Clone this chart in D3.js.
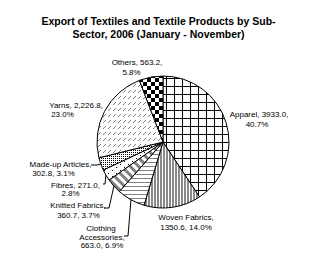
<!DOCTYPE html>
<html>
<head>
<meta charset="utf-8">
<script src="https://cdn.jsdelivr.net/npm/d3@7"></script>
<style>
  body { margin: 0; background: #fff; }
  text { font-family: "Liberation Sans", Arial, sans-serif; fill: #000; }
</style>
</head>
<body>
<script>
// sub-sectors, clockwise from 12 o'clock
var categories = ["Apparel", "Woven Fabrics", "Clothing Accessories", "Knitted Fabrics",
                  "Fibres", "Made-up Articles", "Yarns", "Others"];
var values = [3933.0, 1350.6, 663.0, 360.7, 271.0, 302.8, 2226.8, 563.2];
var valueLabels = ["3933.0", "1350.6", "663.0", "360.7", "271.0", "302.8", "2,226.8", "563.2"];
var percentLabels = ["40.7%", "14.0%", "6.9%", "3.7%", "2.8%", "3.1%", "23.0%", "5.8%"];
var titleLines = ["Export of Textiles and Textile Products by Sub-",
                  "Sector, 2006 (January - November)"];

var width = 317, height = 260;
var cx = 163, cy = 142, radius = 66;

// label layout: lines (center x, baseline y) and leader elbows
var labelLayout = [
  {lines: [["Apparel, " + valueLabels[0] + ",", 259, 117], [percentLabels[0], 257, 127]]},
  {lines: [["Woven Fabrics,", 186, 220], [valueLabels[1] + ", " + percentLabels[1], 186, 230]]},
  {lines: [["Clothing", 101, 231], ["Accessories,", 102, 239.5], [valueLabels[2] + ", " + percentLabels[2], 102, 248]],
   leader: [[124, 236], [128, 236]]},
  {lines: [["Knitted Fabrics,", 78, 208], [valueLabels[3] + ", " + percentLabels[3], 78.5, 218]],
   leader: [[104, 208], [109, 208]]},
  {lines: [["Fibres, " + valueLabels[4] + ",", 75.5, 188], [percentLabels[4], 70.5, 196]],
   leader: [[103, 184], [105, 184]]},
  {lines: [["Made-up Articles,", 60.5, 167], [valueLabels[5] + ", " + percentLabels[5], 53.5, 176]],
   leader: [[91, 165], [97, 165]]},
  {lines: [["Yarns, " + valueLabels[6] + ",", 76, 108], [percentLabels[6], 62.5, 117]]},
  {lines: [["Others, " + valueLabels[7] + ",", 137, 65], [percentLabels[7], 131.5, 75]]}
];

var svg = d3.select("body").append("svg")
            .attr("width", width)
            .attr("height", height);

var defs = svg.append("defs");

// fill patterns, one per slice
function makePattern(id, w, h, draw, transform){
  var p = defs.append("pattern")
              .attr("id", id)
              .attr("patternUnits", "userSpaceOnUse")
              .attr("width", w)
              .attr("height", h);
  if (transform) p.attr("patternTransform", transform);
  p.append("rect").attr("width", w).attr("height", h).attr("fill", "#fff");
  draw(p);
}

makePattern("p-apparel", 8, 8, function(p){
  p.append("rect").attr("x", 0).attr("y", 0).attr("width", 8).attr("height", 1).attr("fill", "#000");
  p.append("rect").attr("x", 0).attr("y", 0).attr("width", 1).attr("height", 8).attr("fill", "#000");
}, "translate(" + cx + ",0)");
makePattern("p-woven", 3, 3, function(p){
  p.append("rect").attr("width", 2).attr("height", 3).attr("fill", "#8a8a8a");
});
makePattern("p-cloth", 4, 4, function(p){
  p.append("rect").attr("width", 4).attr("height", 1).attr("fill", "#808080");
});
makePattern("p-knit", 6, 6, function(p){
  p.append("rect").attr("width", 3).attr("height", 6).attr("fill", "#808080");
}, "rotate(-45)");
makePattern("p-fibre", 8, 6, function(p){
  p.append("rect").attr("x", 1).attr("y", 1).attr("width", 1).attr("height", 1).attr("fill", "#000");
  p.append("rect").attr("x", 5).attr("y", 4).attr("width", 1).attr("height", 1).attr("fill", "#000");
});
makePattern("p-madeup", 2, 2, function(p){
  p.append("rect").attr("width", 1).attr("height", 1).attr("fill", "#000");
});
makePattern("p-yarn", 5, 6, function(p){
  p.append("path").attr("d", "M0,5L3,2").attr("stroke", "#808080").attr("stroke-width", 1);
});
makePattern("p-others", 8, 8, function(p){
  p.append("rect").attr("width", 4).attr("height", 4).attr("fill", "#000");
  p.append("rect").attr("x", 4).attr("y", 4).attr("width", 4).attr("height", 4).attr("fill", "#000");
});

var patternIds = ["p-apparel", "p-woven", "p-cloth", "p-knit", "p-fibre", "p-madeup", "p-yarn", "p-others"];

// title
svg.append("g").selectAll("text")
   .data(titleLines)
   .enter().append("text")
   .attr("x", 158.5)
   .attr("y", function(d, i){ return 24.5 + i * 13; })
   .attr("text-anchor", "middle")
   .attr("font-size", "10.5px")
   .attr("font-weight", "bold")
   .text(function(d){ return d; });

var pie = d3.pie().sort(null).value(function(d){ return d; });
var arcs = pie(values);
var arc = d3.arc().innerRadius(0).outerRadius(radius);

var pieG = svg.append("g").attr("transform", "translate(" + cx + "," + cy + ")");

pieG.selectAll("path")
    .data(arcs)
    .enter().append("path")
    .attr("d", arc)
    .attr("fill", function(d, i){ return "url(#" + patternIds[i] + ")"; })
    .attr("stroke", "#000")
    .attr("stroke-width", 1)
    .attr("stroke-linejoin", "round");

// leader lines from label elbow to the slice edge
var edgeArc = d3.arc().innerRadius(radius).outerRadius(radius);
var line = d3.line();
svg.append("g").selectAll("path")
   .data(arcs.filter(function(d, i){ return labelLayout[i].leader; }))
   .enter().append("path")
   .attr("d", function(d){
     var pts = labelLayout[d.index].leader.slice();
     var c = edgeArc.centroid(d);
     pts.push([cx + c[0], cy + c[1]]);
     return line(pts);
   })
   .attr("fill", "none")
   .attr("stroke", "#000")
   .attr("stroke-width", 1);

// data labels
var labelG = svg.append("g");
labelLayout.forEach(function(l){
  labelG.selectAll(null)
        .data(l.lines)
        .enter().append("text")
        .attr("x", function(d){ return d[1]; })
        .attr("y", function(d){ return d[2]; })
        .attr("text-anchor", "middle")
        .attr("font-size", "8px")
        .text(function(d){ return d[0]; });
});
</script>
</body>
</html>
